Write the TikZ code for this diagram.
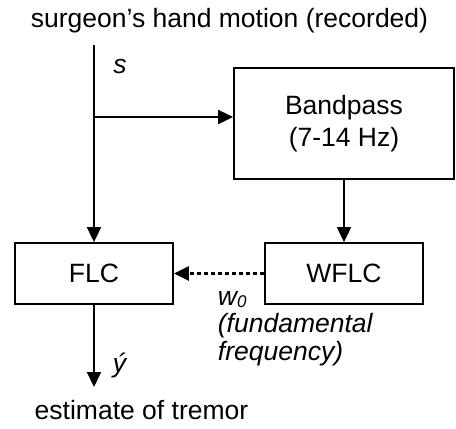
\documentclass[tikz,border=0pt]{standalone}
\usepackage{fontspec}
\setmainfont{Liberation Sans}
\usetikzlibrary{arrows.meta}
\begin{document}
\begin{tikzpicture}[x=1pt,y=-1pt,
  line width=1.8pt,
  every node/.style={font=\fontsize{26.5}{32}\selectfont, inner sep=0pt},
  block/.style={draw, line width=1.8pt, align=center},
  flow/.style={-{Triangle[length=15pt,width=14pt]}},
  lab/.style={font=\fontsize{26.5}{32}\selectfont\itshape},
  freqlink/.style={flow, line width=3pt, dash pattern=on 4pt off 3pt},
]
\useasboundingbox (0,0) rectangle (456,429);

% input signal
\node[anchor=base] (title) at (229.5,27) {surgeon’s hand motion (recorded)};
\coordinate (src) at (94,45);
\coordinate (br) at (94,117);
\node[lab, anchor=base] (s) at (120,73) {s};

% processing blocks
\node[block, minimum width=220pt, minimum height=111pt] (bp) at (344,123.5) {Bandpass\\(7-14 Hz)};
\node[block, minimum width=158pt, minimum height=61pt] (flc) at (94,273.5) {FLC};
\node[block, minimum width=158pt, minimum height=61pt] (wflc) at (344,273.5) {WFLC};

% connections
\draw[flow] (src) -- (flc.north);
\draw[flow] (br) -- (br -| bp.west);
\draw[flow] (bp.south) -- (wflc.north);
\draw[freqlink] (wflc.west) -- (flc.east);

% frequency label (base anchor sits on the last line)
\node[lab, align=left, anchor=base west, font=\fontsize{26.5}{27.5}\selectfont\itshape] (w0) at (217,360)
  {w\raisebox{-0.1em}{\fontsize{17}{17}\selectfont 0}\\(fundamental\\frequency)};

% output
\coordinate (out) at (94,387);
\draw[flow] (flc.south) -- (out);
\node[lab, anchor=base] (yhat) at (119.5,372) {ý};
\node[anchor=base] (est) at (141.5,419) {estimate of tremor};
\end{tikzpicture}
\end{document}
